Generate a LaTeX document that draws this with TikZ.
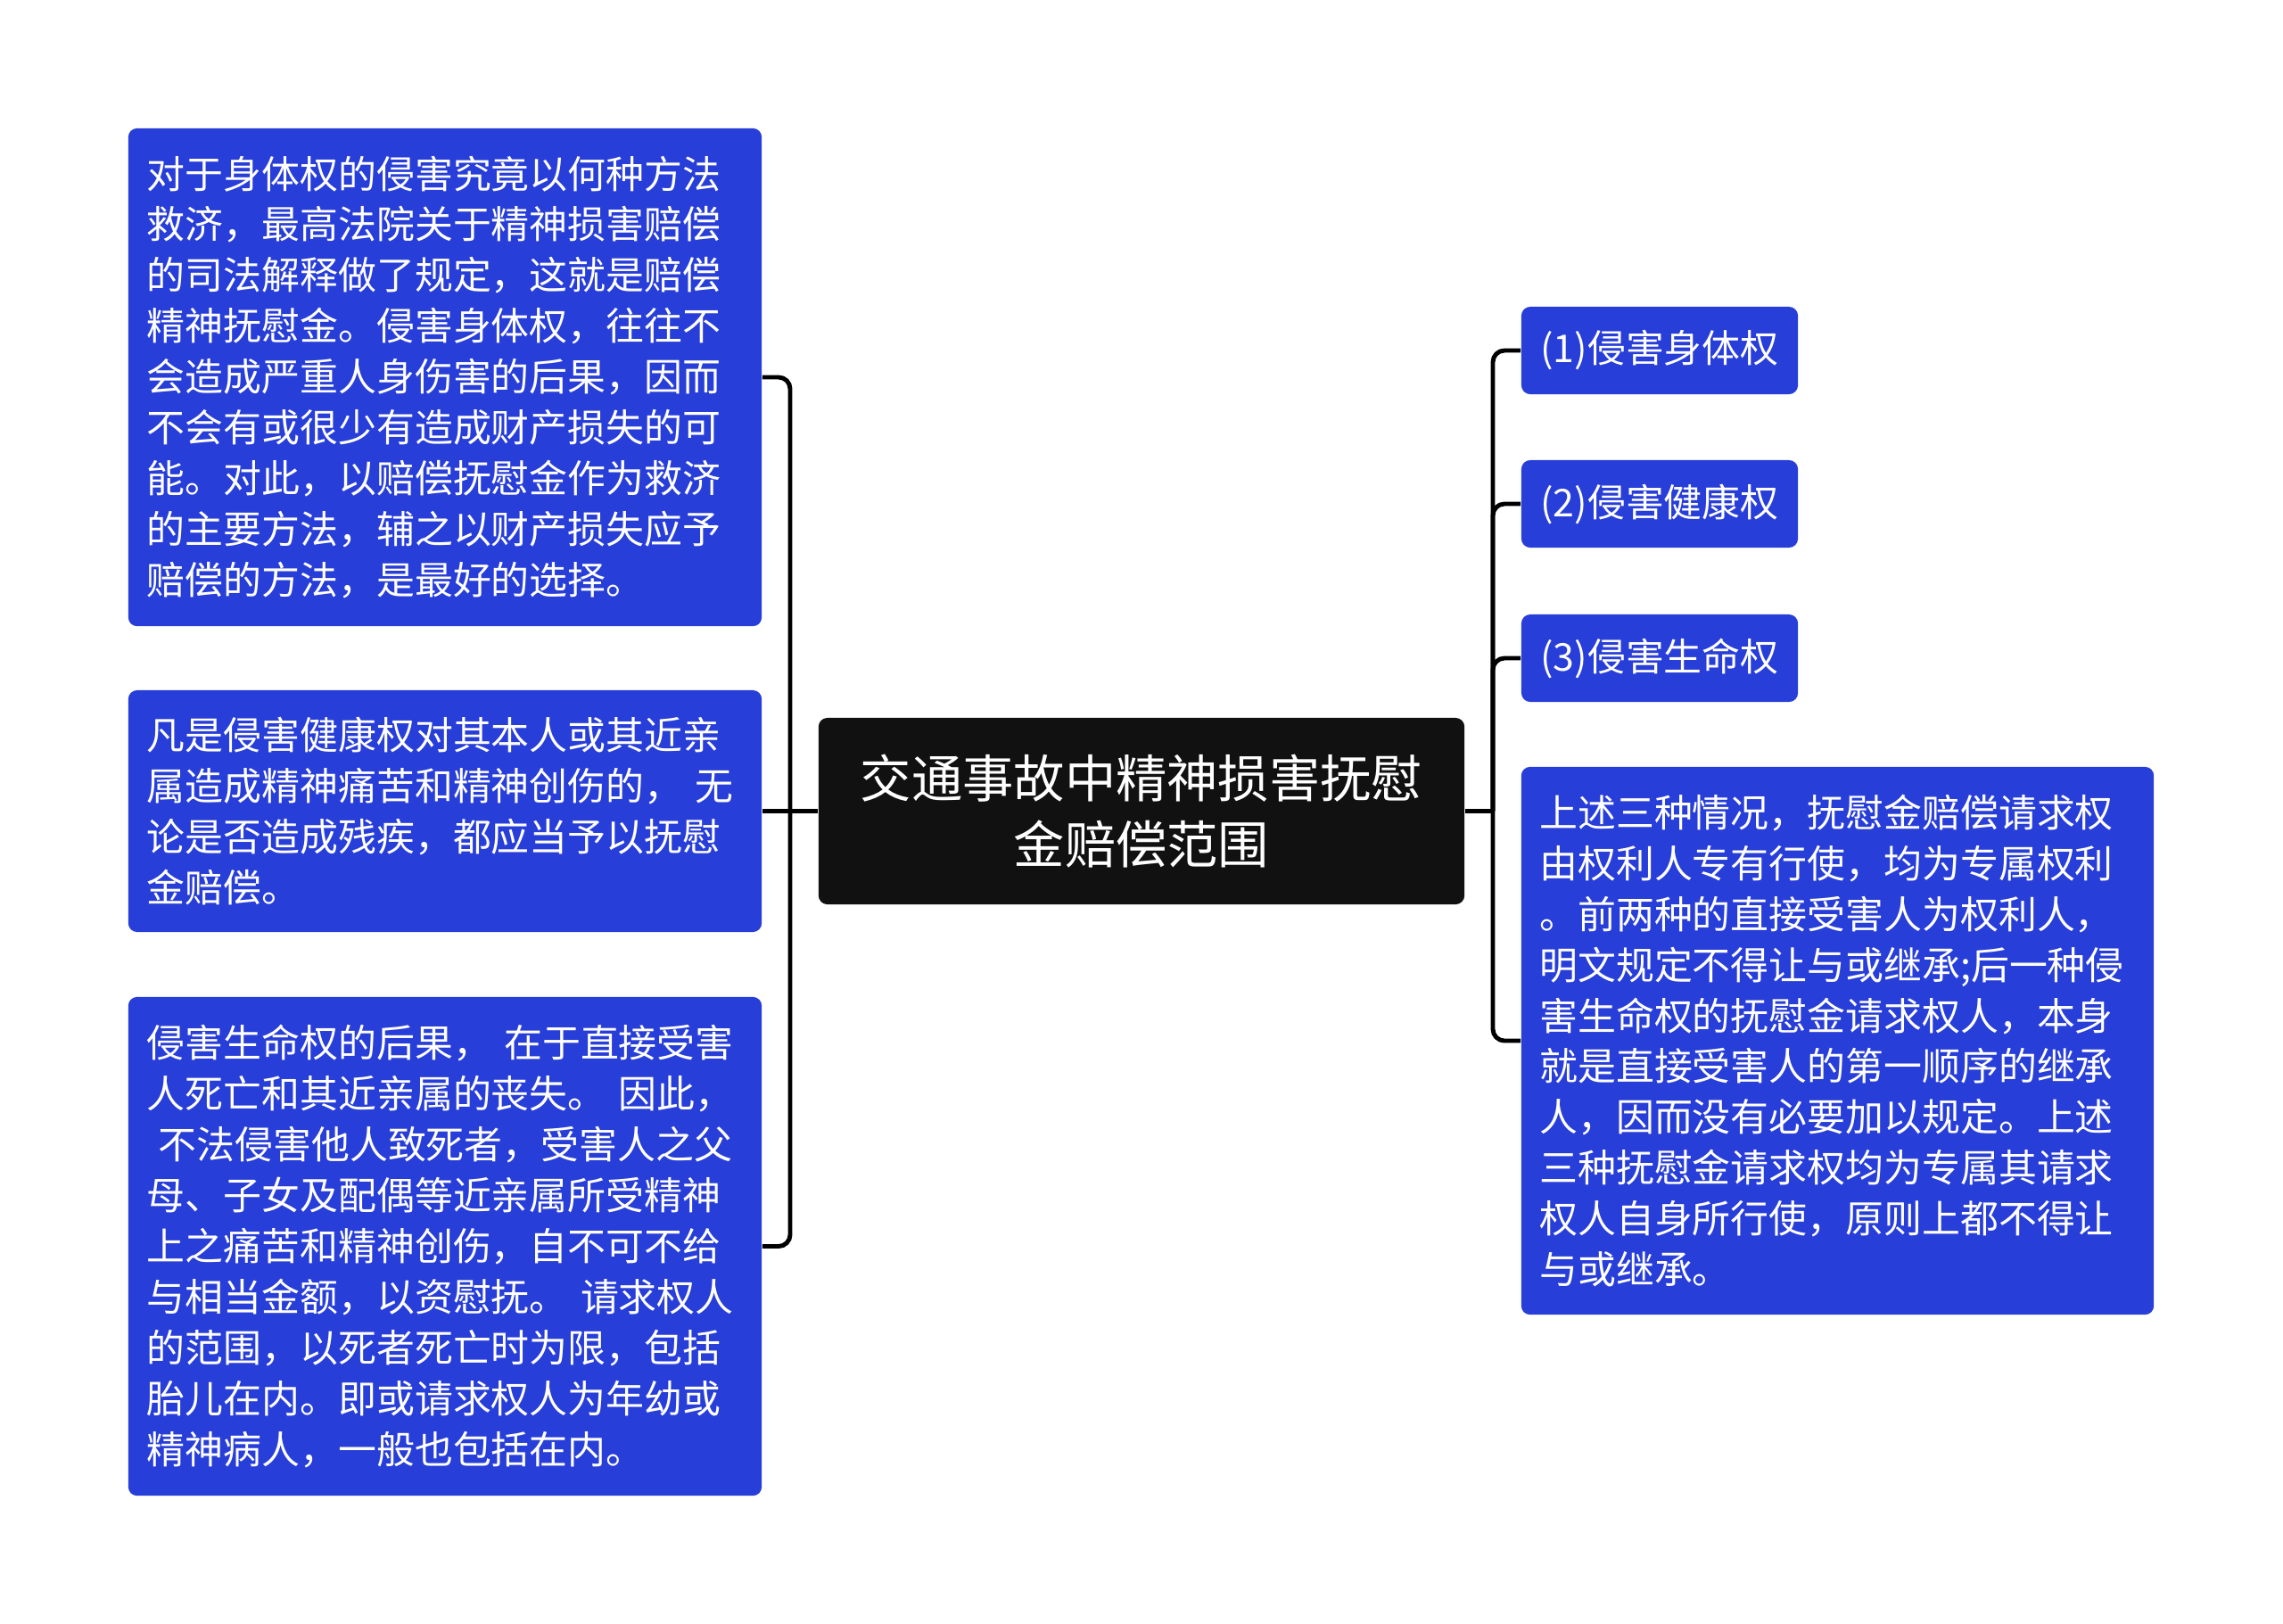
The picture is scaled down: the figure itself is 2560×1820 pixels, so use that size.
\documentclass[tikz,border=0pt]{standalone}
\usepackage{fontspec}
\newfontfamily\cjk{Noto Sans CJK SC}
\definecolor{boxblue}{RGB}{40,62,216}
\definecolor{rootblack}{RGB}{17,17,17}

\begin{document}
\begin{tikzpicture}[x=0.01cm, y=-0.01cm,
  every node/.style = {shape=rectangle, rounded corners=0.1cm,
    text=white, inner sep=0pt},
  leaf/.style = {fill=boxblue, align=left,
    font=\cjk\fontsize{12.2}{16.2}\selectfont},
  root/.style = {fill=rootblack, align=center,
    font=\cjk\fontsize{16.3}{20.9}\selectfont},
  link/.style = {draw=black, line width=1.4pt, rounded corners=0.13cm}]
  \useasboundingbox (0,0) rectangle (2560,1820);

  \node [root, minimum width=7.24cm, minimum height=2.09cm] (root) at (1280,909.5)
    {交通事故中精神损害抚慰\\金赔偿范围};

  \node [leaf, minimum width=7.1cm, minimum height=5.58cm, text width=6.68cm] (bodyright) at (499,423)
    {对于身体权的侵害究竟以何种方法\\
     救济，最高法院关于精神损害赔偿\\
     的司法解释做了规定，这就是赔偿\\
     精神抚慰金。侵害身体权，往往不\\
     会造成严重人身伤害的后果，因而\\
     不会有或很少有造成财产损失的可\\
     能。对此，以赔偿抚慰金作为救济\\
     的主要方法，辅之以财产损失应予\\
     赔偿的方法，是最好的选择。};
  \node [leaf, minimum width=7.1cm, minimum height=2.71cm, text width=6.68cm] (healthright) at (499,909.5)
    {凡是侵害健康权对其本人或其近亲\\
     属造成精神痛苦和精神创伤的， 无\\
     论是否造成残疾，都应当予以抚慰\\
     金赔偿。};
  \node [leaf, minimum width=7.1cm, minimum height=5.59cm, text width=6.68cm] (liferight) at (499,1397.5)
    {侵害生命权的后果， 在于直接受害\\
     人死亡和其近亲属的丧失。 因此，\\
     \hspace*{0.3em}不法侵害他人致死者，受害人之父\\
     母、子女及配偶等近亲属所受精神\\
     上之痛苦和精神创伤，自不可不给\\
     与相当金额，以资慰抚。 请求权人\\
     的范围，以死者死亡时为限，包括\\
     胎儿在内。即或请求权人为年幼或\\
     精神病人，一般也包括在内。};

  \node [leaf, align=center, minimum width=3.1cm, minimum height=0.98cm] (item1) at (1861,393) {(1)侵害身体权};
  \node [leaf, align=center, minimum width=3.1cm, minimum height=0.98cm] (item2) at (1861,565) {(2)侵害健康权};
  \node [leaf, align=center, minimum width=3.1cm, minimum height=0.98cm] (item3) at (1861,738) {(3)侵害生命权};
  \node [leaf, minimum width=7.09cm, minimum height=6.14cm, text width=6.68cm] (summary) at (2060.5,1167)
    {上述三种情况，抚慰金赔偿请求权\\
     由权利人专有行使，均为专属权利\\
     。前两种的直接受害人为权利人，\\
     明文规定不得让与或继承;后一种侵\\
     害生命权的抚慰金请求权人，本身\\
     就是直接受害人的第一顺序的继承\\
     人，因而没有必要加以规定。上述\\
     三种抚慰金请求权均为专属其请求\\
     权人自身所行使，原则上都不得让\\
     与或继承。};

  \coordinate (lhub) at (886,909.5);
  \coordinate (rhub) at (1674,909.5);
  \draw [link] (root.west) -- (lhub);
  \draw [link] (lhub) |- (bodyright.east);
  \draw [link] (lhub) -- (healthright.east);
  \draw [link] (lhub) |- (liferight.east);
  \draw [link] (root.east) -- (rhub);
  \draw [link] (rhub) |- (item1.west);
  \draw [link] (rhub) |- (item2.west);
  \draw [link] (rhub) |- (item3.west);
  \draw [link] (rhub) |- (summary.west);
\end{tikzpicture}
\end{document}
